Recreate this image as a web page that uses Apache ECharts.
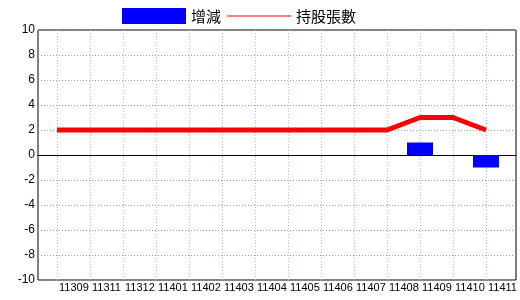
<!DOCTYPE html>
<html>
<head>
<meta charset="utf-8">
<script src="https://cdn.jsdelivr.net/npm/echarts@6/dist/echarts.min.js"></script>
<style>html,body{margin:0;padding:0;background:#fff;}#c{width:520px;height:300px;}</style>
</head>
<body>
<div id="c"></div>
<script>
var categories = ['11309','11311','11312','11401','11402','11403','11404','11405','11406','11407','11408','11409','11410','11411'];
var changeValues = [0,0,0,0,0,0,0,0,0,0,0,1,0,-1];
var holdingValues = [2,2,2,2,2,2,2,2,2,2,2,3,3,2];
var yMin = -10, yMax = 10, yStep = 2;

var numFont = "'Liberation Sans', Arial, sans-serif";
var chart = echarts.init(document.getElementById('c'), null, {renderer: 'canvas'});
chart.setOption({
  animation: false,
  backgroundColor: '#fff',
  legend: {
    left: 122, top: 8, padding: 0,
    itemWidth: 64, itemHeight: 16, itemGap: 6,
    textStyle: {fontSize: 15, color: '#000', fontFamily: "'Noto Sans CJK TC', sans-serif"},
    data: [
      {name: '增減', icon: 'rect'},
      {name: '持股張數', icon: 'path://M0,0L64,0L64,1L0,1Z'}
    ]
  },
  grid: [
    {left: 38, top: 30, width: 478, height: 250, show: true, borderColor: '#000', borderWidth: 1, outerBoundsMode: 'none', containLabel: false},
    {left: 57, top: 30, width: 429, height: 250, show: false, outerBoundsMode: 'none', containLabel: false}
  ],
  xAxis: [
    {
      gridIndex: 0, type: 'value', min: 0, max: 1,
      axisLine: {show: true, onZero: true, lineStyle: {color: '#000', width: 1}},
      axisTick: {show: false}, axisLabel: {show: false}, splitLine: {show: false}
    },
    {
      gridIndex: 1, type: 'category', boundaryGap: false, data: categories,
      axisLine: {show: false, onZero: false},
      axisTick: {show: false},
      splitLine: {show: true, interval: 0, lineStyle: {color: '#a8c0d4', type: [1, 2], width: 1}},
      axisLabel: {
        show: true, interval: 0, align: 'left', padding: [0, 0, 0, 2], margin: 2,
        hideOverlap: false,
        fontSize: 11, color: '#000', fontFamily: numFont
      }
    }
  ],
  yAxis: [
    {
      gridIndex: 0, type: 'value', min: yMin, max: yMax, interval: yStep,
      axisLine: {show: false, onZero: false},
      axisTick: {show: false},
      splitLine: {show: true, lineStyle: {color: '#999', type: [1, 2], width: 1}},
      axisLabel: {fontSize: 12, color: '#000', margin: 3, fontFamily: numFont}
    },
    {
      gridIndex: 1, type: 'value', min: yMin, max: yMax, interval: yStep,
      axisLine: {show: false, onZero: false}, axisTick: {show: false},
      axisLabel: {show: false}, splitLine: {show: false}
    }
  ],
  series: [
    {
      name: '增減', type: 'bar', barWidth: 26, xAxisIndex: 1, yAxisIndex: 1,
      itemStyle: {color: '#0000ff'},
      data: changeValues,
      z: 2
    },
    {
      name: '持股張數', type: 'line', symbol: 'none', xAxisIndex: 1, yAxisIndex: 1,
      lineStyle: {color: '#ff0000', width: 5},
      itemStyle: {color: '#ff0000'},
      data: holdingValues,
      z: 3
    }
  ]
});
</script>
</body>
</html>
